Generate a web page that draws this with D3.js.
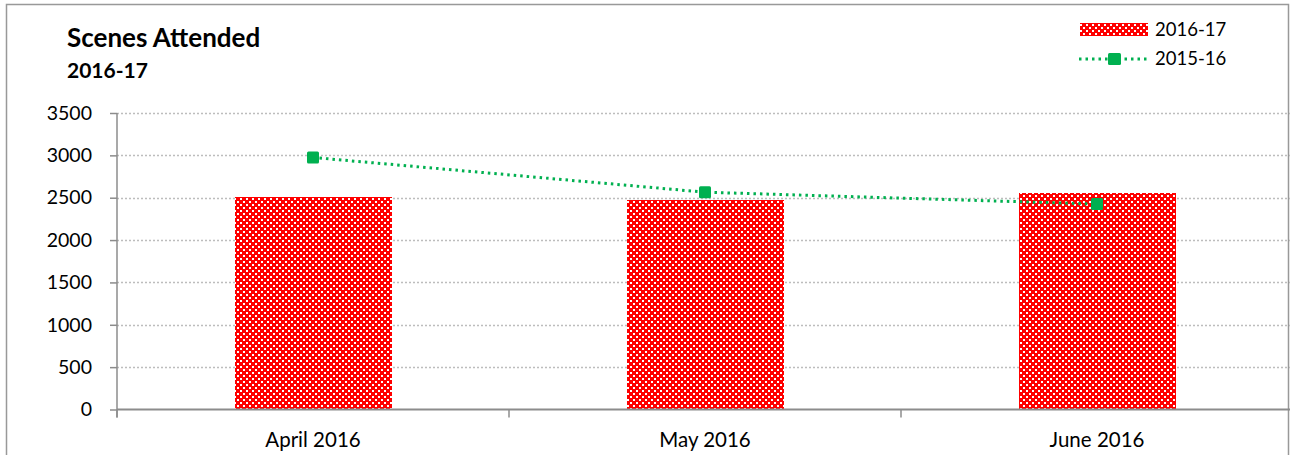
<!DOCTYPE html>
<html><head><meta charset="utf-8">
<script src="https://cdn.jsdelivr.net/npm/d3@7"></script>
<style>body{margin:0;background:#fff}svg{display:block;font-family:Lato,"Open Sans",sans-serif}</style>
</head><body><svg id="c" width="1290" height="455"></svg>
<script>
const categories = ["April 2016", "May 2016", "June 2016"];
const values2016_17 = [2510, 2475, 2555];
const values2015_16 = [2975, 2565, 2425];
const yTicks = [0, 500, 1000, 1500, 2000, 2500, 3000, 3500];
const seriesNames = ["2016-17", "2015-16"];

(function(){
const svg = d3.select("#c");
const pLeft = 117, pRight = 1293, pTop = 113, pBottom = 409.5;
const red = "#FF0000", green = "#00B050", gray = "#8c8c8c";

const defs = svg.append("defs");
const pat = defs.append("pattern").attr("id","chk").attr("patternUnits","userSpaceOnUse")
  .attr("width",6).attr("height",6);
pat.append("rect").attr("width",6).attr("height",6).attr("fill",red).attr("shape-rendering","crispEdges");
[[0,0],[3,3]].forEach(([px,py])=>pat.append("rect").attr("x",px).attr("y",py).attr("width",2).attr("height",2).attr("fill","#fff").attr("shape-rendering","crispEdges"));

// outer frame
svg.append("path").attr("d","M6.5,460 V4.5 H1288.5 V460").attr("fill","none").attr("stroke","#999").attr("stroke-width",1.5);

const x = d3.scaleBand().domain(categories).range([pLeft, pRight]).paddingInner(0.6).paddingOuter(0.3);
const y = d3.scaleLinear().domain([0, 3500]).range([pBottom, pTop]);

// gridlines
svg.append("g").selectAll("line").data(yTicks.filter(d=>d>0)).join("line")
  .attr("x1",pLeft).attr("x2",pRight).attr("y1",d=>Math.round(y(d))+0.5).attr("y2",d=>Math.round(y(d))+0.5)
  .attr("stroke","#bdbdbd").attr("stroke-width",1.3).attr("stroke-dasharray","2,2");

// bars
svg.append("g").selectAll("rect").data(values2016_17).join("rect")
  .attr("x",(d,i)=>Math.round(x(categories[i]))).attr("width",Math.round(x.bandwidth()))
  .attr("y",d=>Math.round(y(d))).attr("height",d=>Math.round(pBottom-y(d)))
  .attr("fill","url(#chk)").attr("shape-rendering","crispEdges");

// y axis
const yAxis = d3.axisLeft(y).tickValues(yTicks).tickSize(7).tickPadding(18).tickFormat(d3.format("d"));
const gy = svg.append("g").attr("transform",`translate(${pLeft},0)`).call(yAxis);
gy.select(".domain").attr("d",`M0,${pTop}V${pBottom+8}`).attr("stroke",gray).attr("stroke-width",1.5);
gy.selectAll(".tick line").attr("stroke",gray).attr("stroke-width",1.5);
gy.selectAll("text").attr("font-size",19.5).attr("fill","#000").attr("font-family","Lato,'Open Sans',sans-serif");

// x axis
const step = x.step();
svg.append("line").attr("x1",pLeft).attr("x2",pRight).attr("y1",pBottom).attr("y2",pBottom).attr("stroke",gray).attr("stroke-width",2);
const boundaries = d3.range(categories.length+1).map(i=>pLeft + i*step);
svg.append("g").selectAll("line").data(boundaries).join("line")
  .attr("x1",d=>d).attr("x2",d=>d).attr("y1",pBottom).attr("y2",pBottom+8).attr("stroke",gray).attr("stroke-width",1.5);
svg.append("g").selectAll("text").data(categories).join("text")
  .attr("x",d=>x(d)+x.bandwidth()/2).attr("y",447).attr("text-anchor","middle")
  .attr("font-size",20.5).text(d=>d);

// line series
const cx = (i)=>x(categories[i])+x.bandwidth()/2;
const line = d3.line().x((d,i)=>cx(i)).y(d=>y(d));
svg.append("path").datum(values2015_16).attr("d",line).attr("fill","none")
  .attr("stroke",green).attr("stroke-width",3).attr("stroke-dasharray","2.5,4");
svg.append("g").selectAll("rect").data(values2015_16).join("rect")
  .attr("x",(d,i)=>cx(i)-6).attr("y",d=>y(d)-6).attr("width",12).attr("height",12).attr("rx",1.5)
  .attr("fill",green);

// titles
svg.append("text").attr("x",67).attr("y",47).attr("font-size",26).attr("font-weight","bold").text("Scenes Attended");
svg.append("text").attr("x",67).attr("y",78).attr("font-size",21).attr("font-weight","bold").text("2016-17");

// legend
svg.append("rect").attr("x",1080).attr("y",23).attr("width",68).attr("height",13).attr("fill","url(#chk)").attr("shape-rendering","crispEdges");
svg.append("text").attr("x",1155).attr("y",36).attr("font-size",18.5).text(seriesNames[0]);
svg.append("line").attr("x1",1079).attr("x2",1148).attr("y1",59).attr("y2",59)
  .attr("stroke",green).attr("stroke-width",3).attr("stroke-dasharray","2.5,4");
svg.append("rect").attr("x",1108).attr("y",53).attr("width",13).attr("height",12).attr("rx",1.5).attr("fill",green);
svg.append("text").attr("x",1155).attr("y",65).attr("font-size",18.5).text(seriesNames[1]);
})();
</script></body></html>
